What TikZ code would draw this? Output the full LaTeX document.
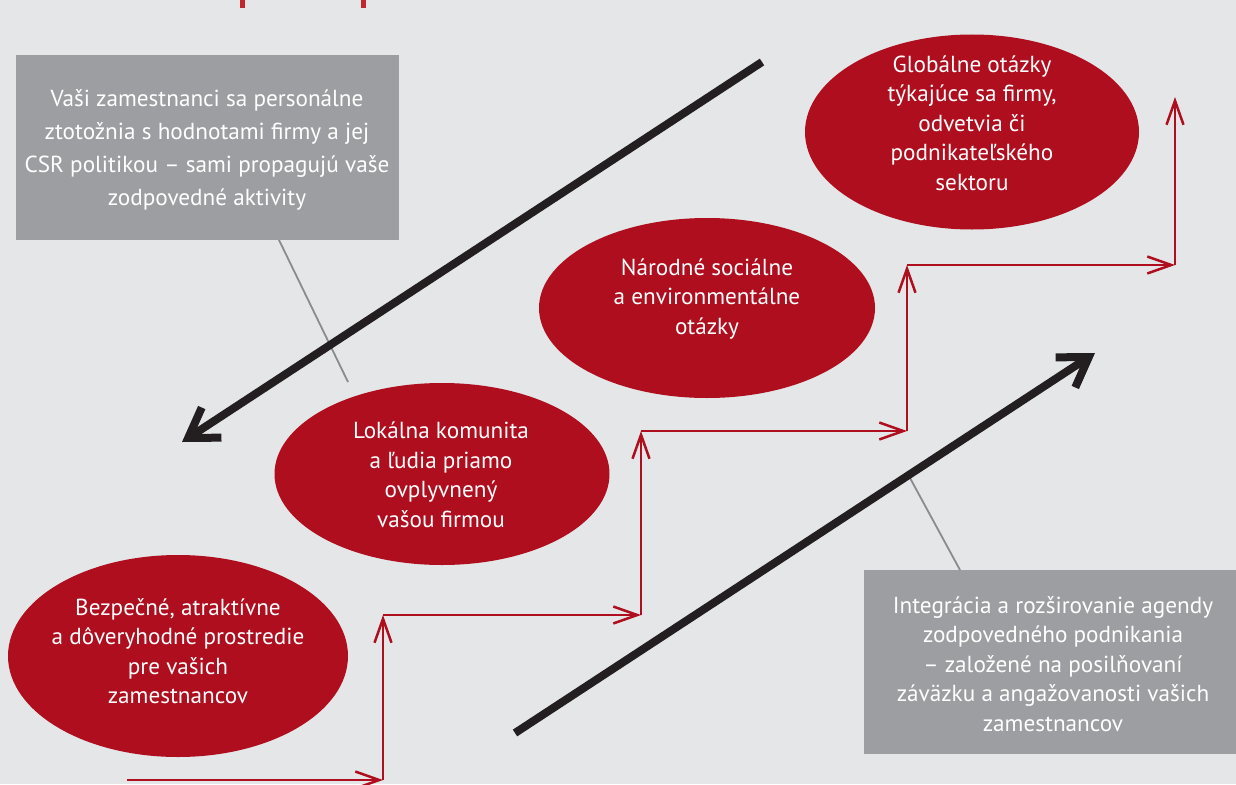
\documentclass[tikz,border=0pt]{standalone}
\usepackage{fontspec}
\setmainfont{PT Sans}
\usetikzlibrary{arrows.meta,shapes.geometric}
\definecolor{bgc}{HTML}{E5E6E8}
\definecolor{csrred}{HTML}{AE0E1E}
\definecolor{markred}{HTML}{C1272D}
\definecolor{boxgray}{HTML}{9D9EA1}
\definecolor{linegray}{HTML}{8A8B8E}
\definecolor{arrowblack}{HTML}{231F20}
\tikzset{
  stage/.style={ellipse, fill=csrred, inner sep=0pt},
  stagetext/.style={text=white, align=center, font=\fontsize{23.2}{29.5}\selectfont},
  notebox/.style={fill=boxgray, inner sep=0pt, anchor=north west},
  notetext/.style={text=white, align=center},
  stepline/.style={draw=csrred, line width=2.5pt, -{Straight Barb[length=24pt,width=17pt]}},
  bigarrow/.style={draw=arrowblack, line width=8pt, -{Straight Barb[length=28pt,width=36pt]}},
  pointer/.style={draw=linegray, line width=1.8pt}
}
\begin{document}
\begin{tikzpicture}[x=1pt,y=-1pt]
\fill[bgc] (0,0) rectangle (1236,784);
\useasboundingbox (0,0) rectangle (1236,784);

% marks at the top edge
\fill[markred] (240,0) rectangle (245,8);
\fill[markred] (361,0) rectangle (366,8);

% note boxes
\node[notebox, minimum width=383pt, minimum height=185pt] (noteA) at (16,55) {};
\node[notetext, font=\fontsize{23.2}{33}\selectfont] (noteAtext) at (207,150)
  {Vaši zamestnanci sa personálne\\ztotožnia s hodnotami firmy a jej\\CSR politikou – sami propagujú vaše\\zodpovedné aktivity};
\node[notebox, minimum width=372pt, minimum height=184pt] (noteB) at (864,570) {};
\node[notetext, font=\fontsize{23.2}{29.5}\selectfont] (noteBtext) at (1053,664)
  {Integrácia a rozširovanie agendy\\zodpovedného podnikania\\– založené na posilňovaní\\záväzku a angažovanosti vašich\\zamestnancov};

% pointer lines
\coordinate (pA1) at (279,240);
\coordinate (pA2) at (348,382);
\coordinate (pB1) at (960,570);
\coordinate (pB2) at (910,478);
\draw[pointer] (pA1) -- (pA2);
\draw[pointer] (pB1) -- (pB2);

% stage ellipses
\node[stage, minimum width=340pt, minimum height=202pt] (s1) at (178,656) {};
\node[stage, minimum width=335pt, minimum height=182pt] (s2) at (442,474) {};
\node[stage, minimum width=336pt, minimum height=180pt] (s3) at (707,308) {};
\node[stage, minimum width=334pt, minimum height=195pt] (s4) at (972,132) {};

\node[stagetext] (t1) at (178,651) {Bezpečné, atraktívne\\a dôveryhodné prostredie\\pre vašich\\zamestnancov};
\node[stagetext] (t2) at (441,475) {Lokálna komunita\\a ľudia priamo\\ovplyvnený\\vašou firmou};
\node[stagetext] (t3) at (707,299) {Národné sociálne\\a environmentálne\\otázky};
\node[stagetext] (t4) at (972,123) {Globálne otázky\\týkajúce sa firmy,\\odvetvia či\\podnikateľského\\sektoru};

% staircase
\coordinate (c0) at (127,780);
\coordinate (c1) at (383,780);
\coordinate (c2) at (383,615);
\coordinate (c3) at (641,615);
\coordinate (c4) at (641,431);
\coordinate (c5) at (907,431);
\coordinate (c6) at (907,265);
\coordinate (c7) at (1175,265);
\coordinate (c8) at (1175,97);
\draw[stepline] (c0) -- (c1);
\draw[stepline] (c1) -- (c2);
\draw[stepline] (c2) -- (c3);
\draw[stepline] (c3) -- (c4);
\draw[stepline] (c4) -- (c5);
\draw[stepline] (c5) -- (c6);
\draw[stepline] (c6) -- (c7);
\draw[stepline] (c7) -- (c8);

% large diagonal arrows
\coordinate (dA1) at (762,62);
\coordinate (dA2) at (182,442);
\coordinate (dB1) at (515,733);
\coordinate (dB2) at (1095,353);
\draw[bigarrow] (dA1) -- (dA2);
\draw[bigarrow] (dB1) -- (dB2);
\end{tikzpicture}
\end{document}
